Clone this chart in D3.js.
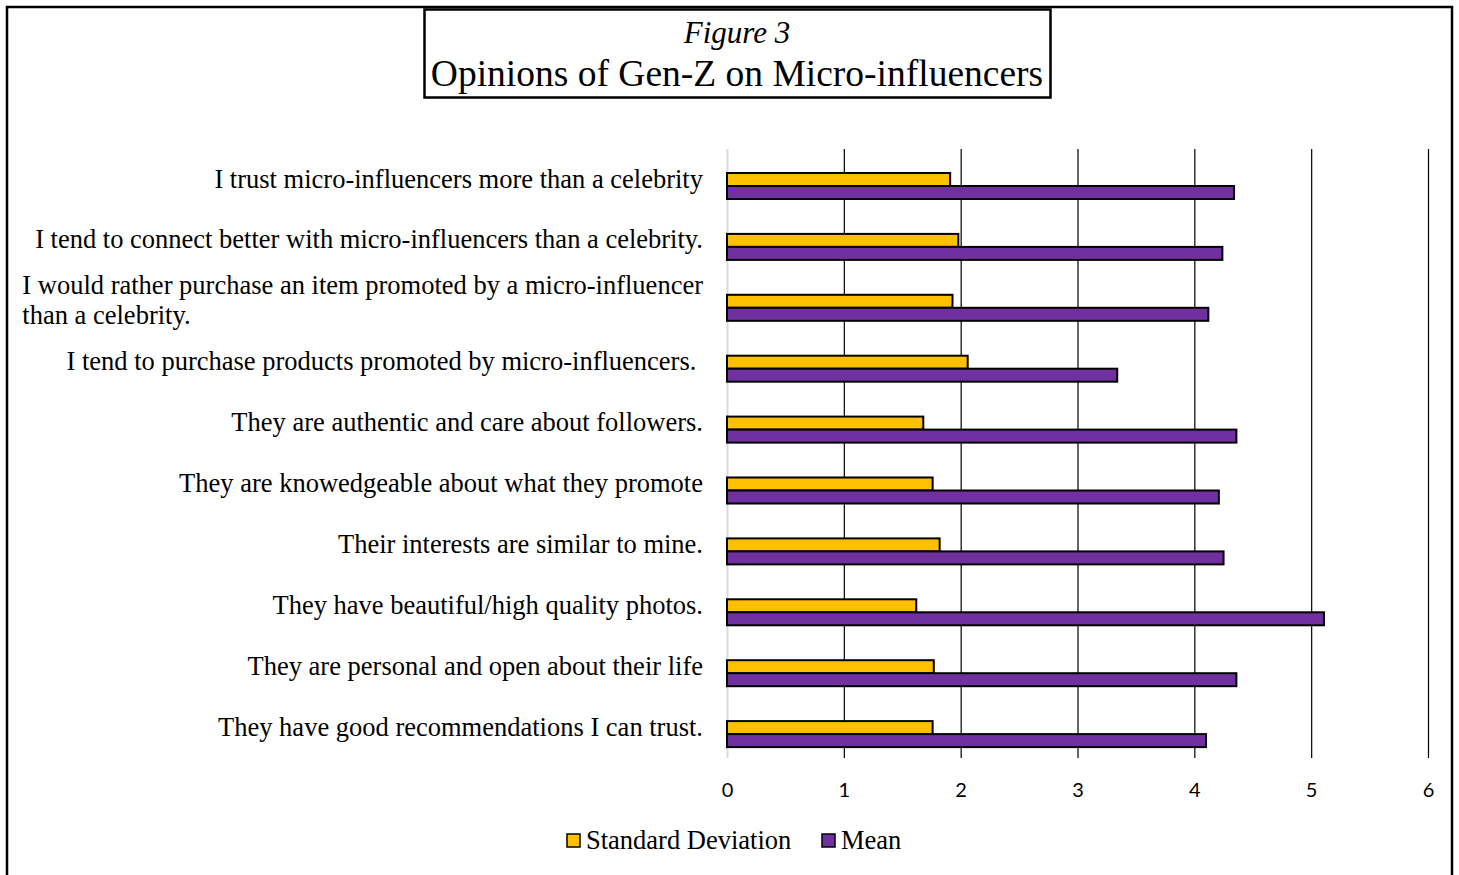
<!DOCTYPE html>
<html>
<head>
<meta charset="utf-8">
<script src="https://cdn.jsdelivr.net/npm/d3@7"></script>
<style>
  body { margin: 0; background: #fff; }
  svg { display: block; }
</style>
</head>
<body>
<div id="container"></div>
<script>
const width = 1459;
const height = 875;

// data
const categories = [
    "I trust micro-influencers more than a celebrity",
    "I tend to connect better with micro-influencers than a celebrity.",
    "I would rather purchase an item promoted by a micro-influencer|than a celebrity.",
    "I tend to purchase products promoted by micro-influencers. ",
    "They are authentic and care about followers.",
    "They are knowedgeable about what they promote",
    "Their interests are similar to mine.",
    "They have beautiful/high quality photos.",
    "They are personal and open about their life",
    "They have good recommendations I can trust."
];
const stdDev = [1.91, 1.98, 1.93, 2.06, 1.68, 1.76, 1.82, 1.62, 1.77, 1.76];
const mean = [4.34, 4.24, 4.12, 3.34, 4.36, 4.21, 4.25, 5.11, 4.36, 4.10];
const seriesNames = ["Standard Deviation", "Mean"];
const seriesColors = ["#FFC000", "#7030A0"];
const xTicks = [0, 1, 2, 3, 4, 5, 6];

const plot = { left: 727, right: 1428, top: 149, bottom: 758 };
const serif = "'Liberation Serif', 'Times New Roman', serif";

const svg = d3.select("div#container")
    .append("svg")
    .attr("width", width)
    .attr("height", height);

// outer frame
svg.append("rect")
    .attr("x", 7).attr("y", 7)
    .attr("width", 1445).attr("height", 900)
    .attr("fill", "none")
    .attr("stroke", "#000")
    .attr("stroke-width", 2.5);

// title box
svg.append("rect")
    .attr("x", 424.5).attr("y", 9.5)
    .attr("width", 626).attr("height", 88)
    .attr("fill", "#fff")
    .attr("stroke", "#000")
    .attr("stroke-width", 2.5);

svg.append("text")
    .attr("x", 737).attr("y", 43)
    .attr("text-anchor", "middle")
    .style("font-family", serif)
    .style("font-style", "italic")
    .style("font-size", "31px")
    .text("Figure 3");

svg.append("text")
    .attr("x", 737).attr("y", 86)
    .attr("text-anchor", "middle")
    .style("font-family", serif)
    .style("font-size", "37.5px")
    .text("Opinions of Gen-Z on Micro-influencers");

const xScale = d3.scaleLinear()
    .domain([0, 6])
    .range([plot.left, plot.right]);

const yScale = d3.scaleBand()
    .domain(categories)
    .range([plot.top, plot.bottom]);

// bars sit a little below the middle of each band
const inner = d3.scaleBand()
    .domain(seriesNames)
    .range([24, 50]);

// gridlines
const xaxis = d3.axisBottom(xScale)
    .tickValues(xTicks)
    .tickSize(-(plot.bottom - plot.top))
    .tickFormat(d3.format("d"));

const gx = svg.append("g")
    .attr("transform", "translate(0," + plot.bottom + ")")
    .call(xaxis);
gx.select(".domain").remove();
gx.selectAll(".tick line")
    .attr("stroke", function(d) { return d === 0 ? "#d9d9d9" : "#000"; })
    .attr("stroke-width", function(d) { return d === 0 ? 2 : 1.2; });
gx.selectAll(".tick text")
    .attr("fill", "#000")
    .attr("y", 39)
    .attr("dy", 0)
    .style("font-family", "Lato, 'Open Sans', sans-serif")
    .style("font-size", "20px");

// bars
const rows = categories.map(function(c, i) {
    return { cat: c, values: [stdDev[i], mean[i]] };
});

const groups = svg.selectAll("g.row")
    .data(rows)
    .enter()
    .append("g")
    .attr("class", "row")
    .attr("transform", function(d) { return "translate(0," + yScale(d.cat) + ")"; });

groups.selectAll("rect")
    .data(function(d) {
        return d.values.map(function(v, j) { return { name: seriesNames[j], value: v, j: j }; });
    })
    .enter()
    .append("rect")
    .attr("x", xScale(0))
    .attr("y", function(d) { return inner(d.name); })
    .attr("width", function(d) { return xScale(d.value) - xScale(0); })
    .attr("height", inner.bandwidth())
    .attr("fill", function(d) { return seriesColors[d.j]; })
    .attr("stroke", "#000")
    .attr("stroke-width", 2);

// category labels
groups.each(function(d) {
    const g = d3.select(this);
    const lines = d.cat.split("|");
    const base = 38.5;
    if (lines.length === 1) {
        g.append("text")
            .attr("x", 703)
            .attr("y", base)
            .attr("text-anchor", "end")
            .style("font-family", serif)
            .style("font-size", "26.5px")
            .style("white-space", "pre")
            .text(lines[0]);
    } else {
        const first = g.append("text")
            .attr("x", 703)
            .attr("y", base - 15)
            .attr("text-anchor", "end")
            .style("font-family", serif)
            .style("font-size", "26.5px")
            .text(lines[0]);
        const w = first.node().getComputedTextLength();
        g.append("text")
            .attr("x", 703 - w)
            .attr("y", base + 15)
            .style("font-family", serif)
            .style("font-size", "26.5px")
            .text(lines[1]);
    }
});

// legend
const legendX = [567, 822];
const legend = svg.selectAll("g.legend")
    .data(seriesNames)
    .enter()
    .append("g")
    .attr("class", "legend")
    .attr("transform", function(d, i) { return "translate(" + legendX[i] + ",834)"; });

legend.append("rect")
    .attr("width", 13).attr("height", 13)
    .attr("fill", function(d, i) { return seriesColors[i]; })
    .attr("stroke", "#000")
    .attr("stroke-width", 1.5);

legend.append("text")
    .attr("x", 19)
    .attr("y", 15)
    .style("font-family", serif)
    .style("font-size", "26.5px")
    .text(function(d) { return d; });
</script>
</body>
</html>
